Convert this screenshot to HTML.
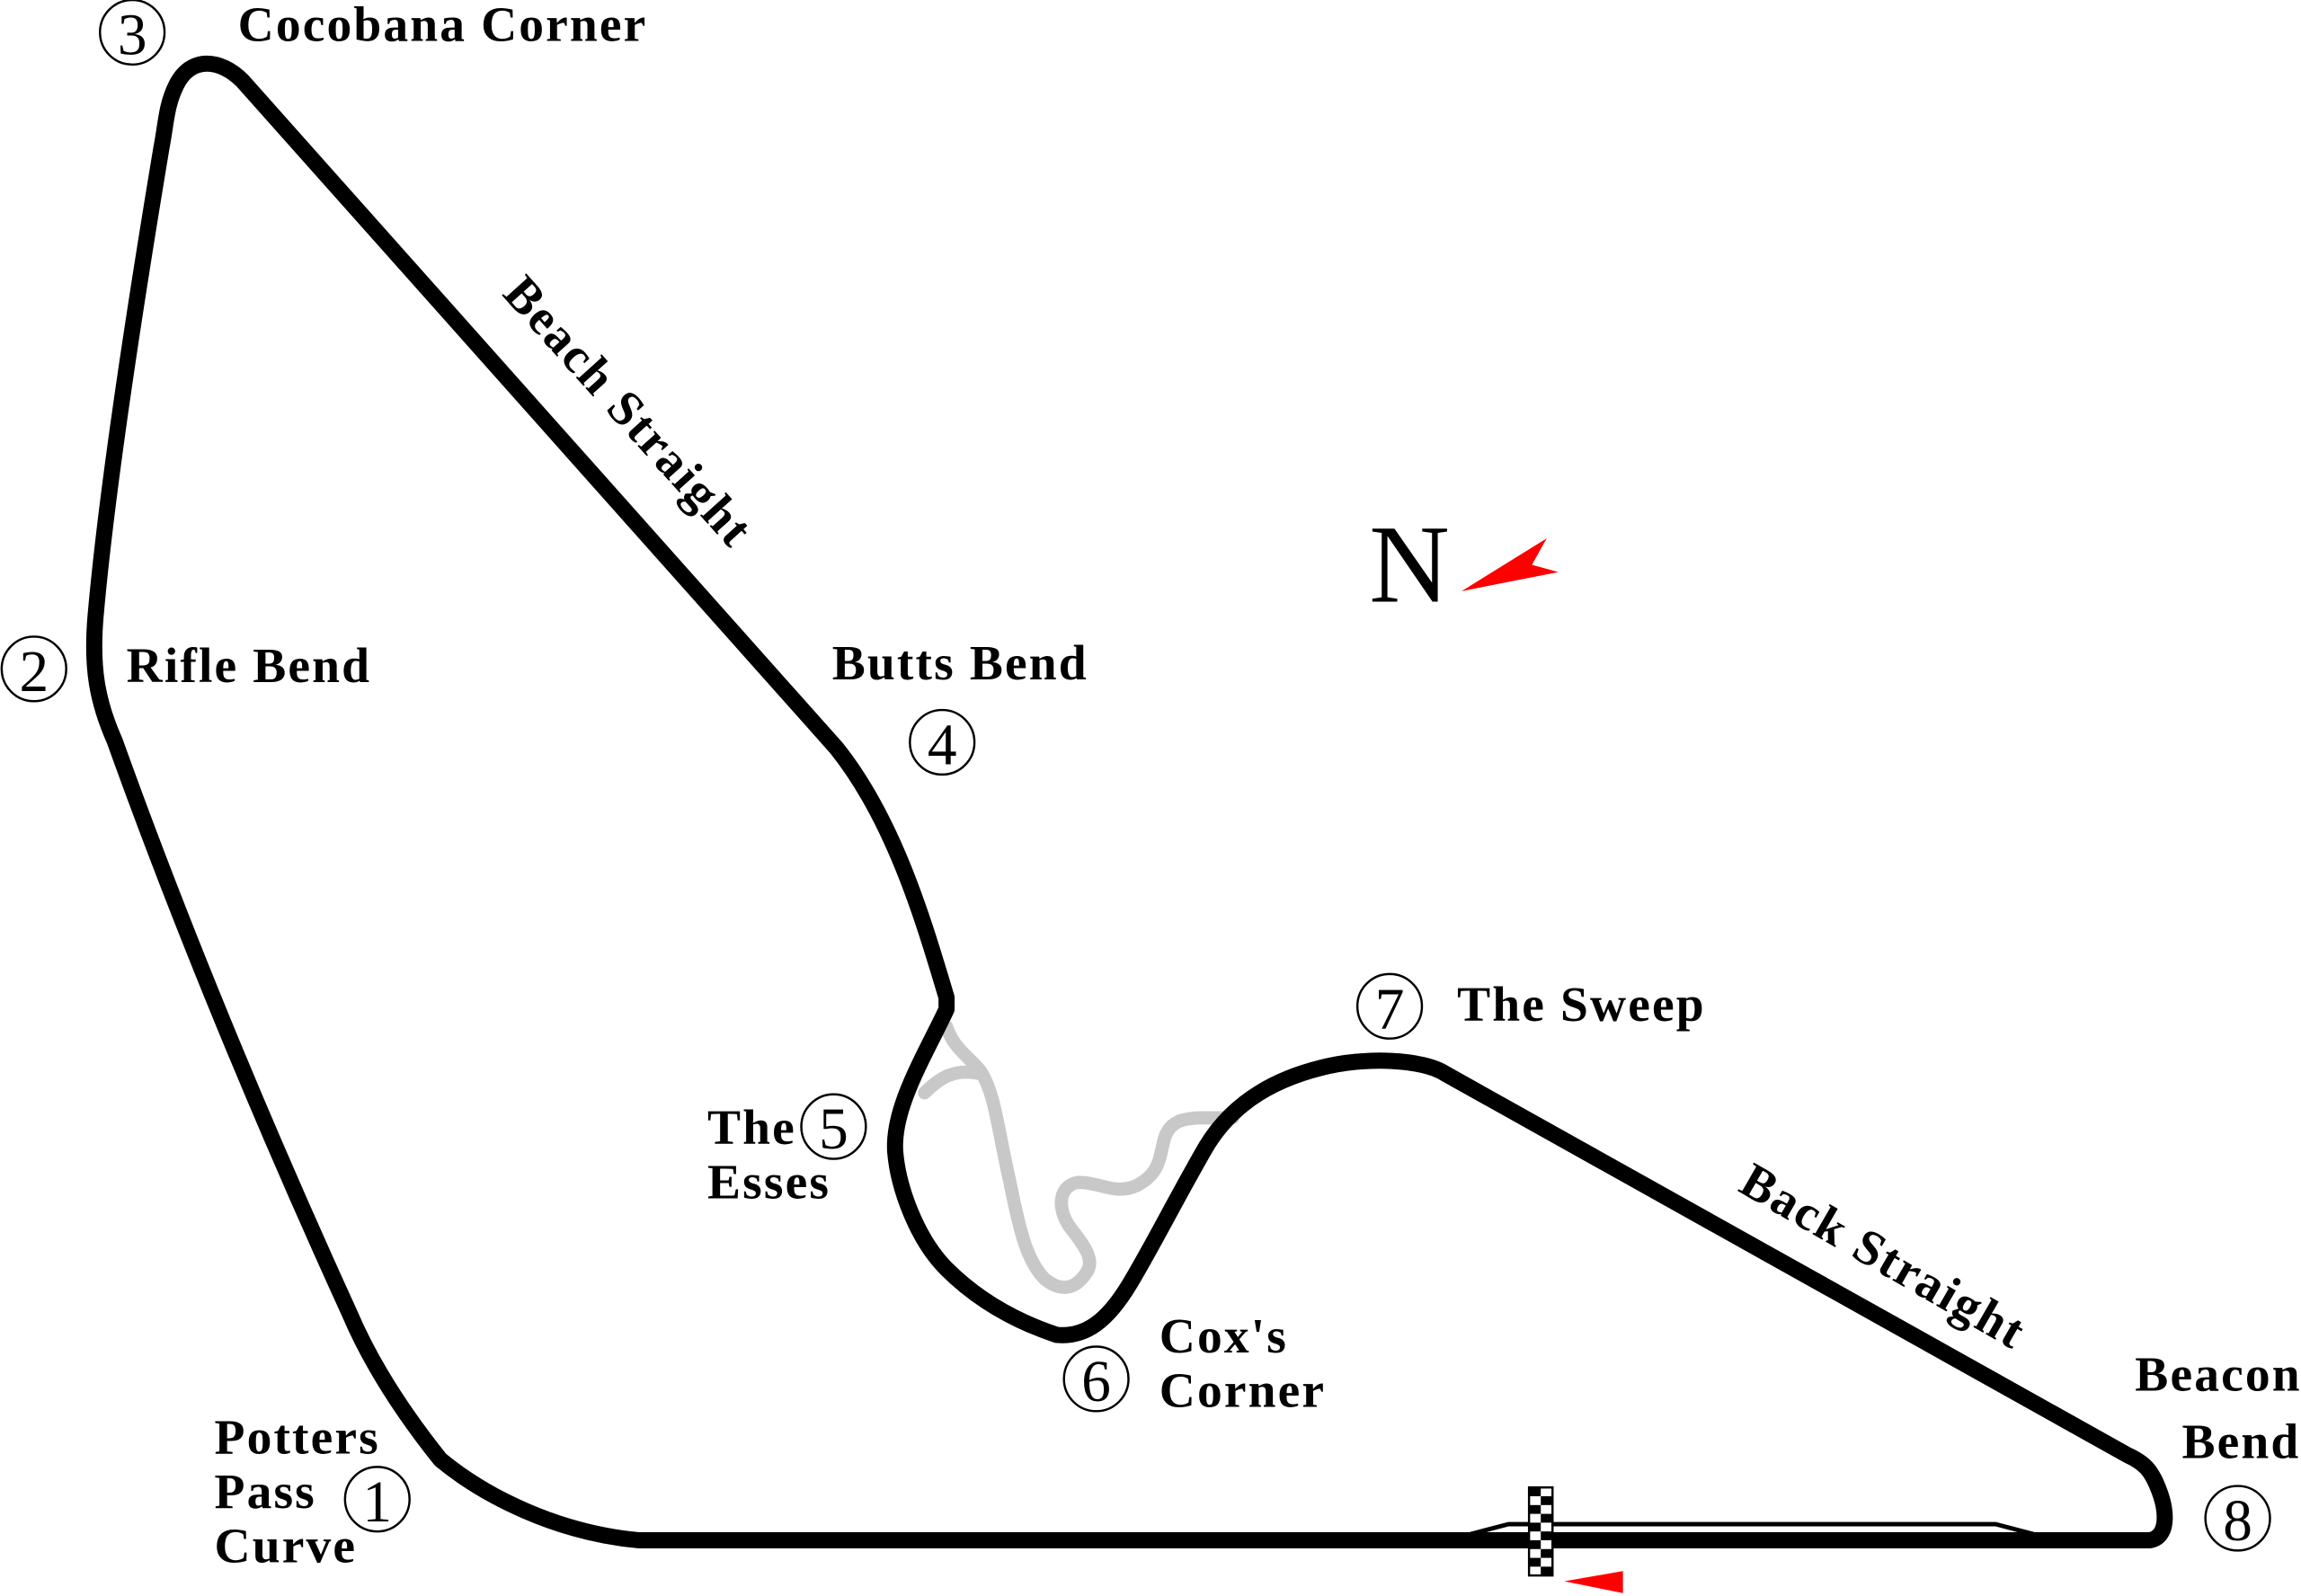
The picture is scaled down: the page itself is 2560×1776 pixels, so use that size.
<!DOCTYPE html>
<html><head><meta charset="utf-8"><style>
html,body{margin:0;padding:0;background:#fff;}
svg{display:block;}
text{font-family:"Liberation Serif",serif;fill:#000;}
.l{font-weight:bold;font-size:34px;letter-spacing:1.3px;}
.n{font-size:40px;}
</style></head><body>
<svg width="2560" height="1776" viewBox="0 0 1568 1088" xmlns="http://www.w3.org/2000/svg">
<g fill="none" stroke="#c8c8c8" stroke-width="9" stroke-linejoin="round" stroke-linecap="round">
<path d="M645,700 C650,715 660,720 668,730 C678,745 680,770 688,805 C695,840 700,860 712,872 C722,880 732,880 740,868 C748,858 735,845 728,835 C720,822 722,808 735,806 C750,806 760,815 775,808 C790,800 790,790 793,778 C796,765 805,762 820,762 L840,762"/>
<path d="M630,745 C640,735 650,728 668,732"/>
</g>
<path d="M990,1049 L1028,1039 L1360,1039 L1398,1049" fill="none" stroke="#000" stroke-width="3"/>
<path d="M300,995 C330,1020 380,1045 435,1050 L1465,1050 C1478,1048 1477,1030 1471,1015 C1466,1002 1461,997 1450,992 L985,732 C970,722 930,720 900,728 C860,738 835,758 820,785 C800,820 785,850 770,875 C755,900 740,912 720,910 C690,900 665,885 645,865 C625,845 612,810 610,785 C608,755 630,720 645,688 L645,680 C630,630 610,560 570,510 L165,55 C150,40 130,38 120,58 C113,72 113,85 110,100 C90,220 72,340 65,420 C62,455 66,478 78,505 C130,650 190,790 238,895 C255,935 280,970 300,995 Z" fill="none" stroke="#000" stroke-width="11" stroke-linejoin="round"/>
<g>
<rect x="1042" y="1014" width="16" height="60" fill="#fff" stroke="#000" stroke-width="1.5"/>
<g fill="#000">
<rect x="1042" y="1014" width="8" height="6"/><rect x="1050" y="1020" width="8" height="6"/>
<rect x="1042" y="1026" width="8" height="6"/><rect x="1050" y="1032" width="8" height="6"/>
<rect x="1042" y="1038" width="8" height="6"/><rect x="1050" y="1044" width="8" height="6"/>
<rect x="1042" y="1050" width="8" height="6"/><rect x="1050" y="1056" width="8" height="6"/>
<rect x="1042" y="1062" width="8" height="6"/><rect x="1050" y="1068" width="8" height="6"/>
</g></g>
<polygon points="1066,1078 1106,1071 1106,1086" fill="#f00"/>
<text x="933" y="410" style="font-size:76px">N</text>
<polygon points="996,403 1062,390 1044,385 1054,367" fill="#f00"/>
<g fill="none" stroke="#000" stroke-width="1.5">
<circle cx="90" cy="22" r="22"/><circle cx="23" cy="456" r="22"/><circle cx="642" cy="506" r="22"/>
<circle cx="568" cy="768" r="22"/><circle cx="747" cy="940" r="22"/><circle cx="947" cy="686" r="22"/>
<circle cx="1525" cy="1035" r="22"/><circle cx="257" cy="1022" r="22"/>
</g>
<g class="n" text-anchor="middle">
<text x="90" y="37" class="n">3</text><text x="23" y="471" class="n">2</text><text x="642" y="521" class="n">4</text>
<text x="568" y="783" class="n">5</text><text x="747" y="955" class="n">6</text><text x="947" y="701" class="n">7</text>
<text x="1525" y="1050" class="n">8</text><text x="257" y="1037" class="n">1</text>
</g>
<g class="l">
<text x="162" y="28" class="l">Cocobana Corner</text>
<text x="86" y="465" class="l">Rifle Bend</text>
<text x="567" y="463" class="l">Butts Bend</text>
<text x="482" y="780" class="l">The</text><text x="482" y="817" class="l">Esses</text>
<text x="790" y="922" class="l">Cox's</text><text x="790" y="959" class="l">Corner</text>
<text x="993" y="696" class="l">The Sweep</text>
<text x="1455" y="948" class="l">Beacon</text><text x="1487" y="994" class="l">Bend</text>
<text x="146" y="991" class="l">Potters</text><text x="146" y="1028" class="l">Pass</text><text x="146" y="1065" class="l">Curve</text>
<text class="l" text-anchor="middle" transform="translate(420,288) rotate(48)">Beach Straight</text>
<text class="l" text-anchor="middle" transform="translate(1278,866) rotate(30)">Back Straight</text>
</g>
</svg>
</body></html>
